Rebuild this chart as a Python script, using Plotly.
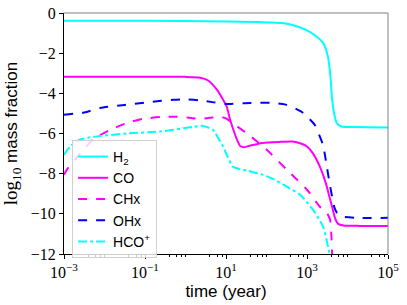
import plotly.graph_objects as go

# time (year) sample points per species (log10 of time) and log10 mass fraction values
h2_logt = [-3, -1, 1, 1.8, 2.4, 2.8, 3.07, 3.25, 3.40, 3.52, 3.58, 3.62, 3.68, 3.74, 3.85, 4.2, 5]
h2_val = [-0.38, -0.39, -0.42, -0.45, -0.5, -0.7, -0.94, -1.2, -1.5, -2.2, -3.2, -4.3, -5.1, -5.5, -5.65, -5.68, -5.7]

co_logt = [-3, -1, 0, 0.36, 0.55, 0.78, 0.93, 1.02, 1.10, 1.18, 1.27, 1.35, 1.45, 1.6, 1.91, 2.3, 2.65, 2.85,
           3.0, 3.15, 3.32, 3.42, 3.49, 3.56, 3.62, 3.69, 3.77, 3.9, 4.3, 5]
co_val = [-3.17, -3.17, -3.18, -3.22, -3.35, -3.83, -4.33, -4.67, -5.3, -5.8, -6.3, -6.62, -6.68, -6.6, -6.47,
          -6.42, -6.4, -6.5, -6.65, -7.0, -7.66, -8.2, -8.65, -9.2, -9.65, -10.2, -10.5, -10.58, -10.6, -10.6]

chx_logt = [-3, -2.93, -2.6, -2.28, -1.86, -1.44, -1.05, -0.6, -0.21, 0.1, 0.36, 0.6, 0.85, 1.0, 1.17, 1.52,
            2.0, 2.5, 3.0, 3.32, 3.49, 3.57, 3.6, 3.62, 3.64]
chx_val = [-8.06, -7.8, -7.0, -6.3, -5.82, -5.47, -5.27, -5.18, -5.17, -5.22, -5.27, -5.22, -5.17, -5.25, -5.5,
           -6.0, -6.8, -7.8, -8.8, -9.65, -9.95, -10.3, -11.0, -12.0, -13.0]

ohx_logt = [-3, -2.5, -2.11, -1.5, -0.88, -0.3, -0.06, 0.36, 0.7, 1.02, 1.59, 2.16, 2.45, 2.65, 2.85, 3.0,
            3.2, 3.32, 3.40, 3.49, 3.56, 3.62, 3.68, 3.74, 3.85, 4.2, 5]
ohx_val = [-5.07, -4.95, -4.73, -4.58, -4.43, -4.32, -4.3, -4.35, -4.45, -4.53, -4.48, -4.48, -4.55, -4.7,
           -4.9, -5.15, -5.6, -6.17, -6.6, -7.66, -8.5, -9.15, -9.7, -9.95, -10.13, -10.2, -10.2]

hco_logt = [-3, -2.85, -2.6, -2.28, -1.44, -0.63, 0.19, 0.43, 0.68, 0.8, 0.93, 1.05, 1.17, 1.35, 1.52, 1.91,
            2.2, 2.5, 2.83, 3.15, 3.40, 3.52, 3.6]
hco_val = [-7.06, -6.65, -6.3, -6.17, -6.0, -5.9, -5.67, -5.62, -5.82, -6.2, -6.65, -7.2, -7.66, -7.78, -7.85,
           -8.06, -8.3, -8.65, -9.05, -9.8, -10.65, -11.64, -12.5]

x_tickvals = [1e-3, 1e-1, 1e1, 1e3, 1e5]
x_ticktext = ["10<sup>−3</sup>", "10<sup>−1</sup>", "10<sup>1</sup>", "10<sup>3</sup>", "10<sup>5</sup>"]
y_tickvals = [0, -2, -4, -6, -8, -10, -12]
y_ticktext = ["0", "−2", "−4", "−6", "−8", "−10", "−12"]

series = [
    ("H<sub>2</sub>", h2_logt, h2_val, "#00FFFF", "solid"),
    ("CO", co_logt, co_val, "#FF00FF", "solid"),
    ("CHx", chx_logt, chx_val, "#FF00FF", "dash"),
    ("OHx", ohx_logt, ohx_val, "#0000FF", "dash"),
    ("HCO<sup>+</sup>", hco_logt, hco_val, "#00FFFF", "dashdot"),
]

fig = go.Figure()
for name, lt, v, color, dash in series:
    fig.add_trace(go.Scatter(
        x=[10 ** a for a in lt], y=v, mode="lines", name=name,
        line=dict(color=color, width=2, dash=dash, shape="spline", smoothing=0.6),
    ))

minor_vals = []
for k in range(-3, 5):
    for s in (4, 6, 8):
        minor_vals.append(s * 10 ** k)
    if k % 2 == 0:
        minor_vals.append(10 ** k)

serif = "Liberation Serif"
sans = "Liberation Sans"

fig.update_layout(
    width=407, height=305,
    margin=dict(l=64, r=19, t=13, b=51),
    paper_bgcolor="white", plot_bgcolor="white",
    font=dict(family=sans, color="black", size=14),
    showlegend=True,
    legend=dict(
        x=0.025, y=0.473, xanchor="left", yanchor="top",
        bgcolor="rgba(255,255,255,0.8)", bordercolor="#d0d0d0", borderwidth=1,
        font=dict(family=sans, size=14), tracegroupgap=0, itemwidth=30,
    ),
    xaxis=dict(
        type="log", range=[-3, 5], tickvals=x_tickvals, ticktext=x_ticktext,
        ticks="outside", ticklen=4, tickcolor="black", showgrid=False, zeroline=False,
        showline=True, linecolor="black", linewidth=1, mirror=False, automargin=False,
        ticklabeloverflow="allow",
        tickfont=dict(family=serif, size=16),
        minor=dict(tickvals=minor_vals, ticks="outside", ticklen=2, tickcolor="black", showgrid=False),
        title=dict(text="time (year)", font=dict(family=sans, size=17), standoff=4),
    ),
    yaxis=dict(
        range=[-12, 0], tickvals=y_tickvals, ticktext=y_ticktext,
        ticks="outside", ticklen=4, tickcolor="black", showgrid=False, zeroline=False,
        showline=True, linecolor="black", linewidth=1, automargin=False,
        ticklabeloverflow="allow",
        tickfont=dict(family=serif, size=16),
        title=dict(text="<span style='font-family:Liberation Serif;font-size:19px'>log<sub>10</sub></span> mass fraction",
                   font=dict(family=sans, size=17), standoff=18),
    ),
    shapes=[
        dict(type="line", xref="paper", yref="paper", x0=0, x1=1, y0=1, y1=1, line=dict(color="#808080", width=1)),
        dict(type="line", xref="paper", yref="paper", x0=1, x1=1, y0=0, y1=1, line=dict(color="#808080", width=1)),
    ],
)

fig.write_html("out.html", config={"displayModeBar": False},
               post_script="document.body.style.margin='0';")
